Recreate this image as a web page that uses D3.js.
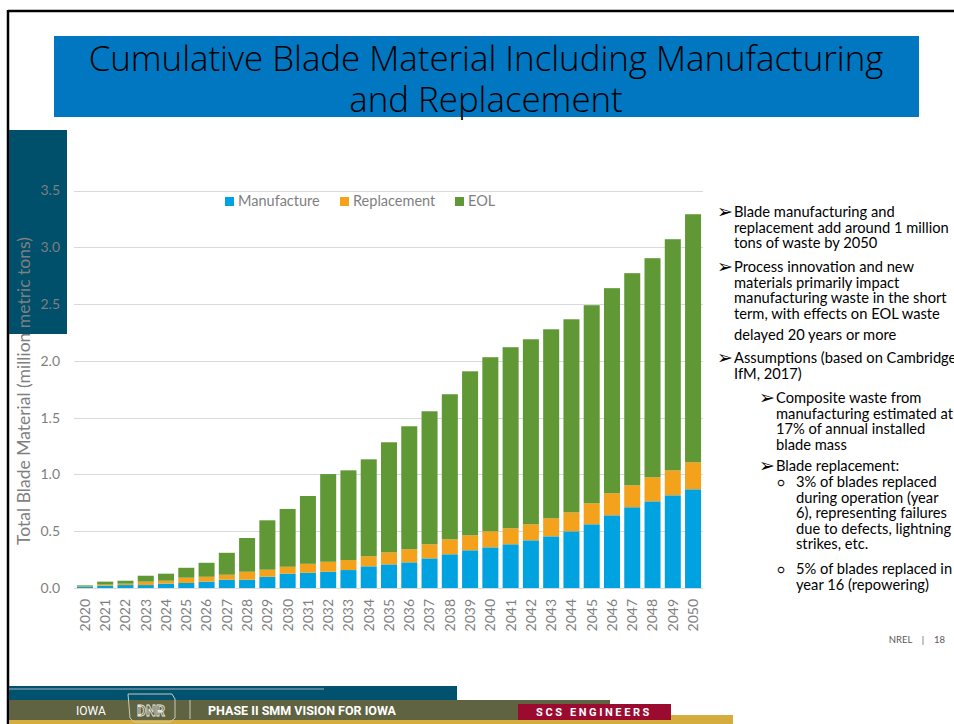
<!DOCTYPE html>
<html>
<head>
<meta charset="utf-8">
<script src="https://cdn.jsdelivr.net/npm/d3@7"></script>
<style>
  body { margin: 0; background: #fff; }
  svg { display: block; }
</style>
</head>
<body>
<div id="slide"></div>
<script>
// Chart data (million metric tons, cumulative)
var years = d3.range(2020, 2051).map(String);
var manufacture = [0.01, 0.02, 0.026, 0.026, 0.038, 0.044, 0.056, 0.073, 0.073, 0.099,
    0.126, 0.134, 0.143, 0.158, 0.191, 0.208, 0.226, 0.261, 0.297, 0.332,
    0.358, 0.385, 0.42, 0.455, 0.499, 0.561, 0.64, 0.711, 0.763, 0.816, 0.869];
var replacement = [0.003, 0.01, 0.012, 0.03, 0.026, 0.047, 0.043, 0.044, 0.07, 0.062,
    0.061, 0.079, 0.088, 0.088, 0.088, 0.106, 0.115, 0.124, 0.132, 0.132,
    0.141, 0.141, 0.141, 0.159, 0.167, 0.185, 0.194, 0.193, 0.212, 0.22, 0.238];
var eol = [0.01, 0.026, 0.026, 0.052, 0.062, 0.087, 0.123, 0.193, 0.297, 0.435,
    0.509, 0.597, 0.772, 0.79, 0.854, 0.969, 1.083, 1.171, 1.277, 1.444,
    1.533, 1.594, 1.629, 1.664, 1.7, 1.744, 1.806, 1.868, 1.929, 2.035, 2.184];
var seriesNames = ["Manufacture", "Replacement", "EOL"];
var yTicks = [0, 0.5, 1.0, 1.5, 2.0, 2.5, 3.0, 3.5];

var titleLines = ["Cumulative Blade Material Including Manufacturing", "and Replacement"];
var bullets = [
    { level: 0, mark: "\u27A2", lines: ["Blade manufacturing and", "replacement add around 1 million", "tons of waste by 2050"] },
    { level: 0, mark: "\u27A2", lines: ["Process innovation and new", "materials primarily impact", "manufacturing waste in the short", "term, with effects on EOL waste", "delayed 20 years or more"] },
    { level: 0, mark: "\u27A2", lines: ["Assumptions (based on Cambridge", "IfM, 2017)"] },
    { level: 1, mark: "\u27A2", lines: ["Composite waste from", "manufacturing estimated at", "17% of annual installed", "blade mass"] },
    { level: 1, mark: "\u27A2", lines: ["Blade replacement:"] },
    { level: 2, mark: "\u25CB", lines: ["3% of blades replaced", "during operation (year", "6), representing failures", "due to defects, lightning", "strikes, etc."] },
    { level: 2, mark: "\u25CB", lines: ["5% of blades replaced in", "year 16 (repowering)"] }
];

var colors = ["#00A3E0", "#F4A11C", "#5F9834"];
var textFont = "Lato, 'Open Sans', sans-serif";

var svgWidth = 954;
var svgHeight = 724;

var svg = d3.select("#slide")
    .append("svg")
    .attr("width", svgWidth)
    .attr("height", svgHeight);

// Slide frame
svg.append("line").attr("x1", 8).attr("x2", 954).attr("y1", 11).attr("y2", 11)
    .attr("stroke", "#000").attr("stroke-width", 2.5);
svg.append("line").attr("x1", 8).attr("x2", 8).attr("y1", 10).attr("y2", 724)
    .attr("stroke", "#000").attr("stroke-width", 2.5);

// Title box
svg.append("rect").attr("x", 54).attr("y", 36).attr("width", 865).attr("height", 81)
    .attr("fill", "#0077C0");
var title = svg.append("text")
    .attr("text-anchor", "middle")
    .style("font-family", "'Century Gothic', 'Open Sans', sans-serif")
    .style("font-weight", "300")
    .style("font-size", "30px")
    .attr("fill", "#000");
title.selectAll("tspan")
    .data(titleLines)
    .enter()
    .append("tspan")
    .attr("x", 486)
    .attr("y", (d, i) => 71 + i * 41)
    .text(d => d);
// fit the first title line to its width on the slide
var tw = title.select("tspan").node().getComputedTextLength();
title.style("font-size", (30 * 795 / tw) + "px");

// Teal block at left
svg.append("rect").attr("x", 9).attr("y", 130).attr("width", 58).attr("height", 204)
    .attr("fill", "#00506B");

// Chart
var x = d3.scaleBand()
    .domain(years)
    .range([74.5, 703.5])
    .paddingInner(0.21)
    .paddingOuter(0.12);

var y = d3.scaleLinear()
    .domain([0, 3.5])
    .range([588, 190.5]);

var tableData = years.map(function (yr, i) {
    return { year: yr, Manufacture: manufacture[i], Replacement: replacement[i], EOL: eol[i] };
});
var stacked = d3.stack().keys(seriesNames)(tableData);

// Gridlines
svg.append("g")
    .selectAll("line")
    .data(yTicks)
    .enter()
    .append("line")
    .attr("x1", 74)
    .attr("x2", 703)
    .attr("y1", d => Math.round(y(d)) + 0.5)
    .attr("y2", d => Math.round(y(d)) + 0.5)
    .attr("stroke", "#D9D9D9")
    .attr("stroke-width", 1.2);

// Y axis tick labels
var leftAxis = d3.axisLeft(y).tickValues(yTicks).tickFormat(d3.format(".1f")).tickSize(0).tickPadding(0);
var yAxisG = svg.append("g")
    .attr("transform", "translate(60,0)")
    .call(leftAxis);
yAxisG.select(".domain").remove();
yAxisG.selectAll("text")
    .style("font-family", textFont)
    .style("font-size", "14px")
    .attr("fill", "#7F7F7F");

// X axis year labels
var bottomAxis = d3.axisBottom(x).tickSize(0).tickPadding(0);
var xAxisG = svg.append("g")
    .attr("transform", "translate(0,599)")
    .call(bottomAxis);
xAxisG.select(".domain").remove();
xAxisG.selectAll("text")
    .attr("transform", "rotate(-90)")
    .attr("x", 0)
    .attr("y", 0)
    .attr("dy", "0.35em")
    .style("text-anchor", "end")
    .style("font-family", textFont)
    .style("font-size", "14px")
    .attr("fill", "#7F7F7F");

// Stacked bars
svg.append("g")
    .selectAll("g")
    .data(stacked)
    .enter()
    .append("g")
    .attr("fill", (d, i) => colors[i])
    .selectAll("rect")
    .data(d => d)
    .enter()
    .append("rect")
    .attr("x", d => x(d.data.year))
    .attr("width", x.bandwidth())
    .attr("y", d => y(d[1]))
    .attr("height", d => y(d[0]) - y(d[1]));

// Y axis title
svg.append("text")
    .attr("transform", "translate(30,391) rotate(-90)")
    .attr("text-anchor", "middle")
    .style("font-family", textFont)
    .style("font-size", "17.5px")
    .attr("fill", "#7F7F7F")
    .text("Total Blade Material (million metric tons)");

// Legend
var legendX = [225, 340, 455];
var legend = svg.append("g")
    .selectAll("g")
    .data(seriesNames)
    .enter()
    .append("g")
    .attr("transform", (d, i) => `translate(${legendX[i]},197)`);
legend.append("rect")
    .attr("width", 9)
    .attr("height", 9)
    .attr("fill", (d, i) => colors[i]);
legend.append("text")
    .attr("x", 13)
    .attr("y", 9)
    .style("font-family", textFont)
    .style("font-size", "14.5px")
    .attr("fill", "#7F7F7F")
    .text(d => d);

// Bullet text on the right
var bulletTop = [217, 272, 363, 403, 471, 487, 574];
var markX = [717, 759, 777];
var textX = [734, 776, 796];
var bulletG = svg.append("g")
    .style("font-family", textFont)
    .attr("fill", "#000");
bullets.forEach(function (b, i) {
    bulletG.append("text")
        .attr("x", markX[b.level])
        .attr("y", bulletTop[i] + (b.level == 2 ? 0 : 1))
        .style("font-family", b.level == 2 ? textFont : "'DejaVu Sans', sans-serif")
        .style("font-size", b.level == 2 ? "12px" : "19px")
        .text(b.mark);
    b.lines.forEach(function (ln, j) {
        var lineY = bulletTop[i] + j * 15.6;
        if (i == 1 && j == 4) lineY += 6;
        bulletG.append("text")
            .attr("class", "btext")
            .attr("x", textX[b.level])
            .attr("y", lineY)
            .style("font-size", "14px")
            .text(ln);
    });
});
// squeeze text to the Calibri-like width of the slide
var sample = bulletG.selectAll(".btext").nodes()[1];
var sw = sample.getComputedTextLength();
bulletG.selectAll(".btext").style("font-size", (14 * 215 / sw) + "px");

// Page number
svg.append("text")
    .attr("x", 945)
    .attr("y", 643)
    .attr("text-anchor", "end")
    .style("font-family", textFont)
    .style("font-size", "9.5px")
    .style("white-space", "pre")
    .attr("fill", "#595959")
    .text("NREL    |    18");

// Footer bands
svg.append("rect").attr("x", 9).attr("y", 715).attr("width", 724).attr("height", 9).attr("fill", "#D4AD3E");
svg.append("rect").attr("x", 9).attr("y", 686).attr("width", 448).attr("height", 15).attr("fill", "#00526E");
svg.append("line").attr("x1", 9).attr("x2", 324).attr("y1", 689).attr("y2", 689)
    .attr("stroke", "#9FB3BE").attr("stroke-width", 1);
svg.append("rect").attr("x", 9).attr("y", 700).attr("width", 601).attr("height", 20).attr("fill", "#5F6341");
svg.append("rect").attr("x", 518).attr("y", 704).attr("width", 153).attr("height", 16).attr("fill", "#9B0B2F");

var footText = svg.append("g")
    .style("font-family", "Roboto, 'Open Sans', sans-serif")
    .style("font-weight", "bold")
    .attr("fill", "#fff");
footText.append("text").attr("x", 76).attr("y", 715).style("font-size", "12px").style("font-weight", "normal").text("IOWA");
footText.append("text").attr("x", 208).attr("y", 715).style("font-size", "12.5px").text("PHASE II SMM VISION FOR IOWA");
footText.append("text").attr("x", 594).attr("y", 716).attr("text-anchor", "middle")
    .style("font-size", "11px").style("letter-spacing", "2.6px").text("SCS ENGINEERS");

// DNR logo outline
svg.append("path")
    .attr("d", "M128,694 L172,694 L175,699 L175,718 L170,722 L134,722 L130,718 Z")
    .attr("fill", "none").attr("stroke", "#C9CBB8").attr("stroke-width", 1);
svg.append("text").attr("x", 151).attr("y", 716).attr("text-anchor", "middle")
    .style("font-family", "Roboto, sans-serif").style("font-size", "14px").style("font-weight", "bold")
    .attr("fill", "none").attr("stroke", "#E8E8E0").attr("stroke-width", 0.8)
    .text("DNR");
svg.append("line").attr("x1", 190).attr("x2", 190).attr("y1", 700).attr("y2", 719)
    .attr("stroke", "#C9CBB8").attr("stroke-width", 1);
</script>
</body>
</html>
